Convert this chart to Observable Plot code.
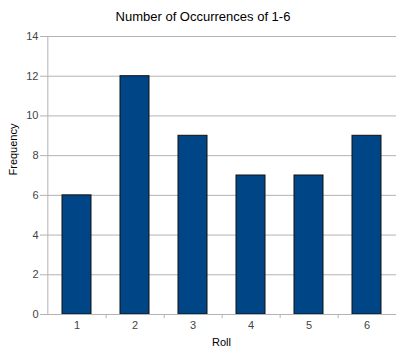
<!DOCTYPE html>
<html>
<head>
<meta charset="utf-8">
<script src="https://cdn.jsdelivr.net/npm/d3@7"></script>
<script src="https://cdn.jsdelivr.net/npm/@observablehq/plot@0.6"></script>
<style>
  html, body { margin: 0; padding: 0; background: #fff; }
  #title { width: 396px; height: 28px; box-sizing: border-box; padding-top: 9px; padding-left: 10px;
           text-align: center; font: 13px "Liberation Sans", Arial, sans-serif; color: #000; line-height: 15px; }
  #chart svg { display: block; }
</style>
</head>
<body>
<div id="title">Number of Occurrences of 1-6</div>
<div id="chart"></div>
<script>
const rolls = [1, 2, 3, 4, 5, 6];
const frequencies = [6, 12, 9, 7, 7, 9];
const yTicks = [0, 2, 4, 6, 8, 10, 12, 14];
const data = rolls.map((r, i) => ({roll: r, freq: frequencies[i]}));

const W = 396, H = 321, ML = 46, MR = 0, MT = 8, MB = 35;
const step = (W - ML - MR) / rolls.length;

const chart = Plot.plot({
  width: W,
  height: H,
  marginLeft: ML,
  marginRight: MR,
  marginTop: MT,
  marginBottom: MB,
  style: {fontFamily: "'Liberation Sans', Arial, sans-serif", fontSize: "11px", color: "#444", background: "#fff"},
  x: {type: "band", domain: rolls, paddingInner: 0.5, paddingOuter: 0.25},
  y: {domain: [0, 14]},
  marks: [
    Plot.gridY(yTicks, {stroke: "#b3b3b3", strokeOpacity: 1}),
    Plot.ruleX([rolls[0]], {x: d => d, y1: 0, y2: 14, dx: -step / 2, stroke: "#b3b3b3"}),
    Plot.axisY(yTicks, {tickSize: 6, tickPadding: 2, stroke: "#b3b3b3", label: null, fill: "#444"}),
    Plot.axisX(rolls, {tickSize: 0, tickPadding: 7, label: null, fill: "#444"}),
    Plot.ruleX(rolls.slice(0, 5), {x: d => d, y1: 0, y2: 0, dx: step / 2, insetBottom: -4, stroke: "#b3b3b3"}),
    Plot.barY(data, {x: "roll", y: "freq", fill: "#004586", stroke: "#111", strokeWidth: 1}),
    Plot.ruleY([0], {stroke: "#b3b3b3"}),
    Plot.text(["Roll"], {frameAnchor: "bottom", dy: 31, fill: "#000", fontSize: 11}),
    Plot.text(["Frequency"], {frameAnchor: "left", dx: -33, rotate: -90, fill: "#000", fontSize: 11})
  ]
});
document.getElementById("chart").appendChild(chart);
</script>
</body>
</html>
